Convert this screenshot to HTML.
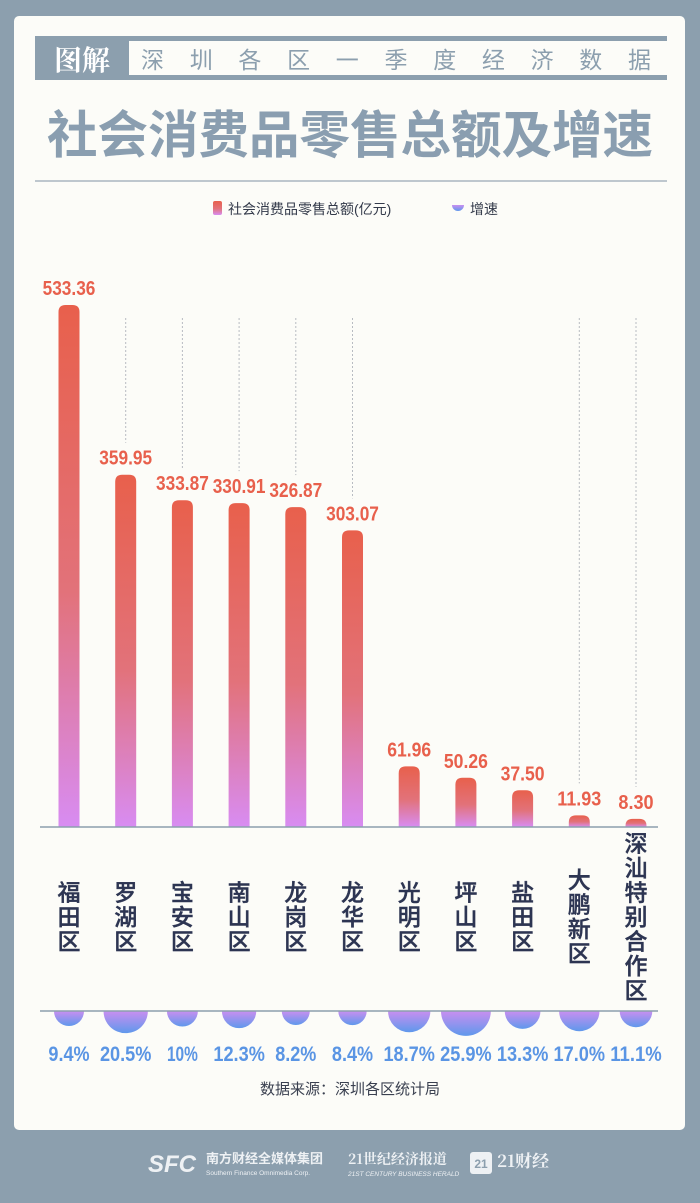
<!DOCTYPE html>
<html><head><meta charset="utf-8">
<style>
html,body{margin:0;padding:0;}
body{width:700px;height:1203px;background:#8c9fae;position:relative;overflow:hidden;font-family:"Liberation Sans","Noto Sans CJK SC",sans-serif;}
#card{position:absolute;left:14px;top:16px;width:671px;height:1114px;background:#fcfcf8;border-radius:5px;}
svg{position:absolute;left:0;top:0;}
</style></head>
<body>
<div id="card"></div>
<svg id="chart" width="700" height="1203">
<defs>
<linearGradient id="barg" x1="0" y1="0" x2="0" y2="1">
<stop offset="0" stop-color="#e8604c"/><stop offset="0.55" stop-color="#e2727a"/><stop offset="1" stop-color="#d88cf2"/>
</linearGradient>
<linearGradient id="cirg" x1="0" y1="0" x2="0" y2="1">
<stop offset="0" stop-color="#c98ff0"/><stop offset="1" stop-color="#5f98ec"/>
</linearGradient>
</defs>
<g>
<rect x="35" y="36" width="632" height="44" fill="#8c9fae"/>
<rect x="129" y="41" width="538" height="34" fill="#fcfcf8"/>
<text x="82" y="70" text-anchor="middle" font-size="28" font-weight="bold" fill="#fff" font-family="'Noto Serif CJK SC',serif">图解</text>
<text x="141" y="68" font-size="23" fill="#8c9fae" textLength="510" lengthAdjust="spacing">深圳各区一季度经济数据</text>
</g>
<text x="350" y="153" text-anchor="middle" font-size="51" font-weight="bold" fill="#8a9eb0" textLength="606" lengthAdjust="spacingAndGlyphs">社会消费品零售总额及增速</text>
<line x1="35" y1="181" x2="667" y2="181" stroke="#a9b5c0" stroke-width="1.5"/>
<g>
<rect x="213" y="201" width="9" height="14" rx="2" fill="url(#barg)"/>
<text x="228" y="214" font-size="14" fill="#333a4a">社会消费品零售总额(亿元)</text>
<path d="M452 205 h12 a6 6 0 0 1 -12 0z" fill="url(#cirg)"/>
<text x="470" y="214" font-size="14" fill="#333a4a">增速</text>
</g>
<g id="bars"></g>
<line x1="40" y1="827" x2="658" y2="827" stroke="#8c9fae" stroke-width="1.5"/>
<line x1="40" y1="1011" x2="658" y2="1011" stroke="#8c9fae" stroke-width="1.5"/>
<text x="350" y="1094" text-anchor="middle" font-size="15" fill="#3a4050">数据来源：深圳各区统计局</text>
<g fill="#eef1f4">
<text x="148" y="1172" font-size="24" font-weight="bold" font-style="italic">SFC</text>
<text x="206" y="1163" font-size="13" font-weight="bold">南方财经全媒体集团</text>
<text x="206" y="1175" font-size="6.5">Southern Finance Omnimedia Corp.</text>
<text x="348" y="1164" font-size="14" font-weight="bold" font-family="'Noto Serif CJK SC',serif">21世纪经济报道</text>
<text x="348" y="1176" font-size="6.5" font-style="italic">21ST CENTURY BUSINESS HERALD</text>
<rect x="470" y="1152" width="22" height="22" rx="3" fill="#eef1f4"/>
<text x="481" y="1168" text-anchor="middle" font-size="12" font-weight="bold" fill="#8c9fae">21</text>
<text x="497" y="1167" font-size="17" font-weight="bold" font-family="'Noto Serif CJK SC',serif">21财经</text>
</g>
</svg>
<script>
const categories=["福田区","罗湖区","宝安区","南山区","龙岗区","龙华区","光明区","坪山区","盐田区","大鹏新区","深汕特别合作区"];
const sales=[533.36,359.95,333.87,330.91,326.87,303.07,61.96,50.26,37.50,11.93,8.30];
const salesLabels=["533.36","359.95","333.87","330.91","326.87","303.07","61.96","50.26","37.50","11.93","8.30"];
const growth=[9.4,20.5,10,12.3,8.2,8.4,18.7,25.9,13.3,17.0,11.1];
const growthLabels=["9.4%","20.5%","10%","12.3%","8.2%","8.4%","18.7%","25.9%","13.3%","17.0%","11.1%"];
const guideLines=[false,true,true,true,true,true,false,false,false,true,true];

const NS="http://www.w3.org/2000/svg";
const g=document.getElementById('bars');
const baseY=827, scaleK=522/533.36;
const xFor=i=>69+i*56.7;
const yFor=v=>baseY-v*scaleK;
const rFor=v=>4.9*Math.sqrt(v);
function mk(t,a){const e=document.createElementNS(NS,t);for(const k in a)e.setAttribute(k,a[k]);g.appendChild(e);return e;}
categories.forEach((c,i)=>{
  const x=xFor(i), y=yFor(sales[i]), w=21, h=baseY-y, r=Math.min(7,h);
  if(guideLines[i]){
    const dl=mk('line',{x1:x,y1:318,x2:x,y2:y-32,stroke:'#b8bcc2','stroke-width':1,'stroke-dasharray':'2,2'});
    
    
  }
  const b=mk('path',{d:`M${x-w/2} ${baseY} V${y+r} Q${x-w/2} ${y} ${x-w/2+r} ${y} H${x+w/2-r} Q${x+w/2} ${y} ${x+w/2} ${y+r} V${baseY}Z`,fill:'url(#barg)'});
  
  
  const lab=salesLabels[i];
  const t=mk('text',{x:x,y:y-10,'text-anchor':'middle','font-size':20,'font-weight':'bold',fill:'#e8604c',textLength:lab.length*8.8,lengthAdjust:'spacingAndGlyphs'});
  t.textContent=lab;
  
  
  const chars=[...c], lh=24.5, top=917-chars.length*lh/2;
  chars.forEach((ch,j)=>{
    const ct=mk('text',{x:x,y:top+j*lh+20,'text-anchor':'middle','font-size':23,'font-weight':'500',fill:'#2d3552',stroke:'#2d3552','stroke-width':0.4});
    ct.textContent=ch;
    
    
  });
  const rr=rFor(growth[i]);
  const s=mk('path',{d:`M${x-rr} 1011 A${rr} ${rr} 0 0 0 ${x+rr} 1011Z`,fill:'url(#cirg)'});
  
  
  const gl=growthLabels[i];
  const gt=mk('text',{x:x,y:1061,'text-anchor':'middle','font-size':21,'font-weight':'bold',fill:'#5a95e4',textLength:gl.length*10.3,lengthAdjust:'spacingAndGlyphs'});
  gt.textContent=gl;
  
  
});
</script>
</body></html>
